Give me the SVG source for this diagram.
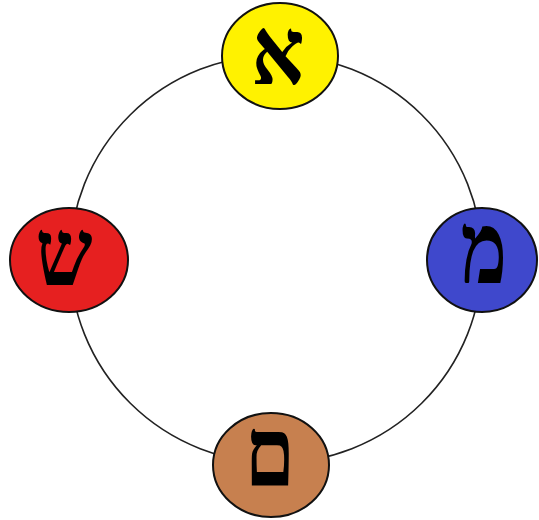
<svg xmlns="http://www.w3.org/2000/svg" width="539" height="520" viewBox="0 0 539 520">
<style>
.ring{fill:none;stroke:#222;stroke-width:1.6}
.node{stroke:#111;stroke-width:2}
.lt{font-family:"Liberation Serif","DejaVu Serif",serif;font-weight:bold;font-size:84px;fill:#000;text-anchor:middle}
</style>
<rect width="539" height="520" fill="#fff"/>
<g id="connectors">
<ellipse class="ring" cx="276" cy="259" rx="206" ry="204"/>
</g>
<g id="aleph">
<ellipse class="node" cx="280" cy="56" rx="58" ry="53" fill="#FFF200"/>
<text class="lt" transform="translate(278,84) scale(0.99,1.12)">א</text>
</g>
<g id="mem">
<ellipse class="node" cx="482" cy="260" rx="55" ry="52" fill="#3F48CC"/>
<text class="lt" transform="translate(484,283) scale(0.93,1.2)">מ</text>
</g>
<g id="final-mem">
<ellipse class="node" cx="271" cy="465" rx="58" ry="52" fill="#C7804F"/>
<text class="lt" transform="translate(270,485) scale(0.96,1.15)">ם</text>
</g>
<g id="shin">
<ellipse class="node" cx="69" cy="260" rx="59" ry="52" fill="#E62020"/>
<text class="lt" transform="translate(64,285) scale(0.96,1.12)">ש</text>
</g>
</svg>
